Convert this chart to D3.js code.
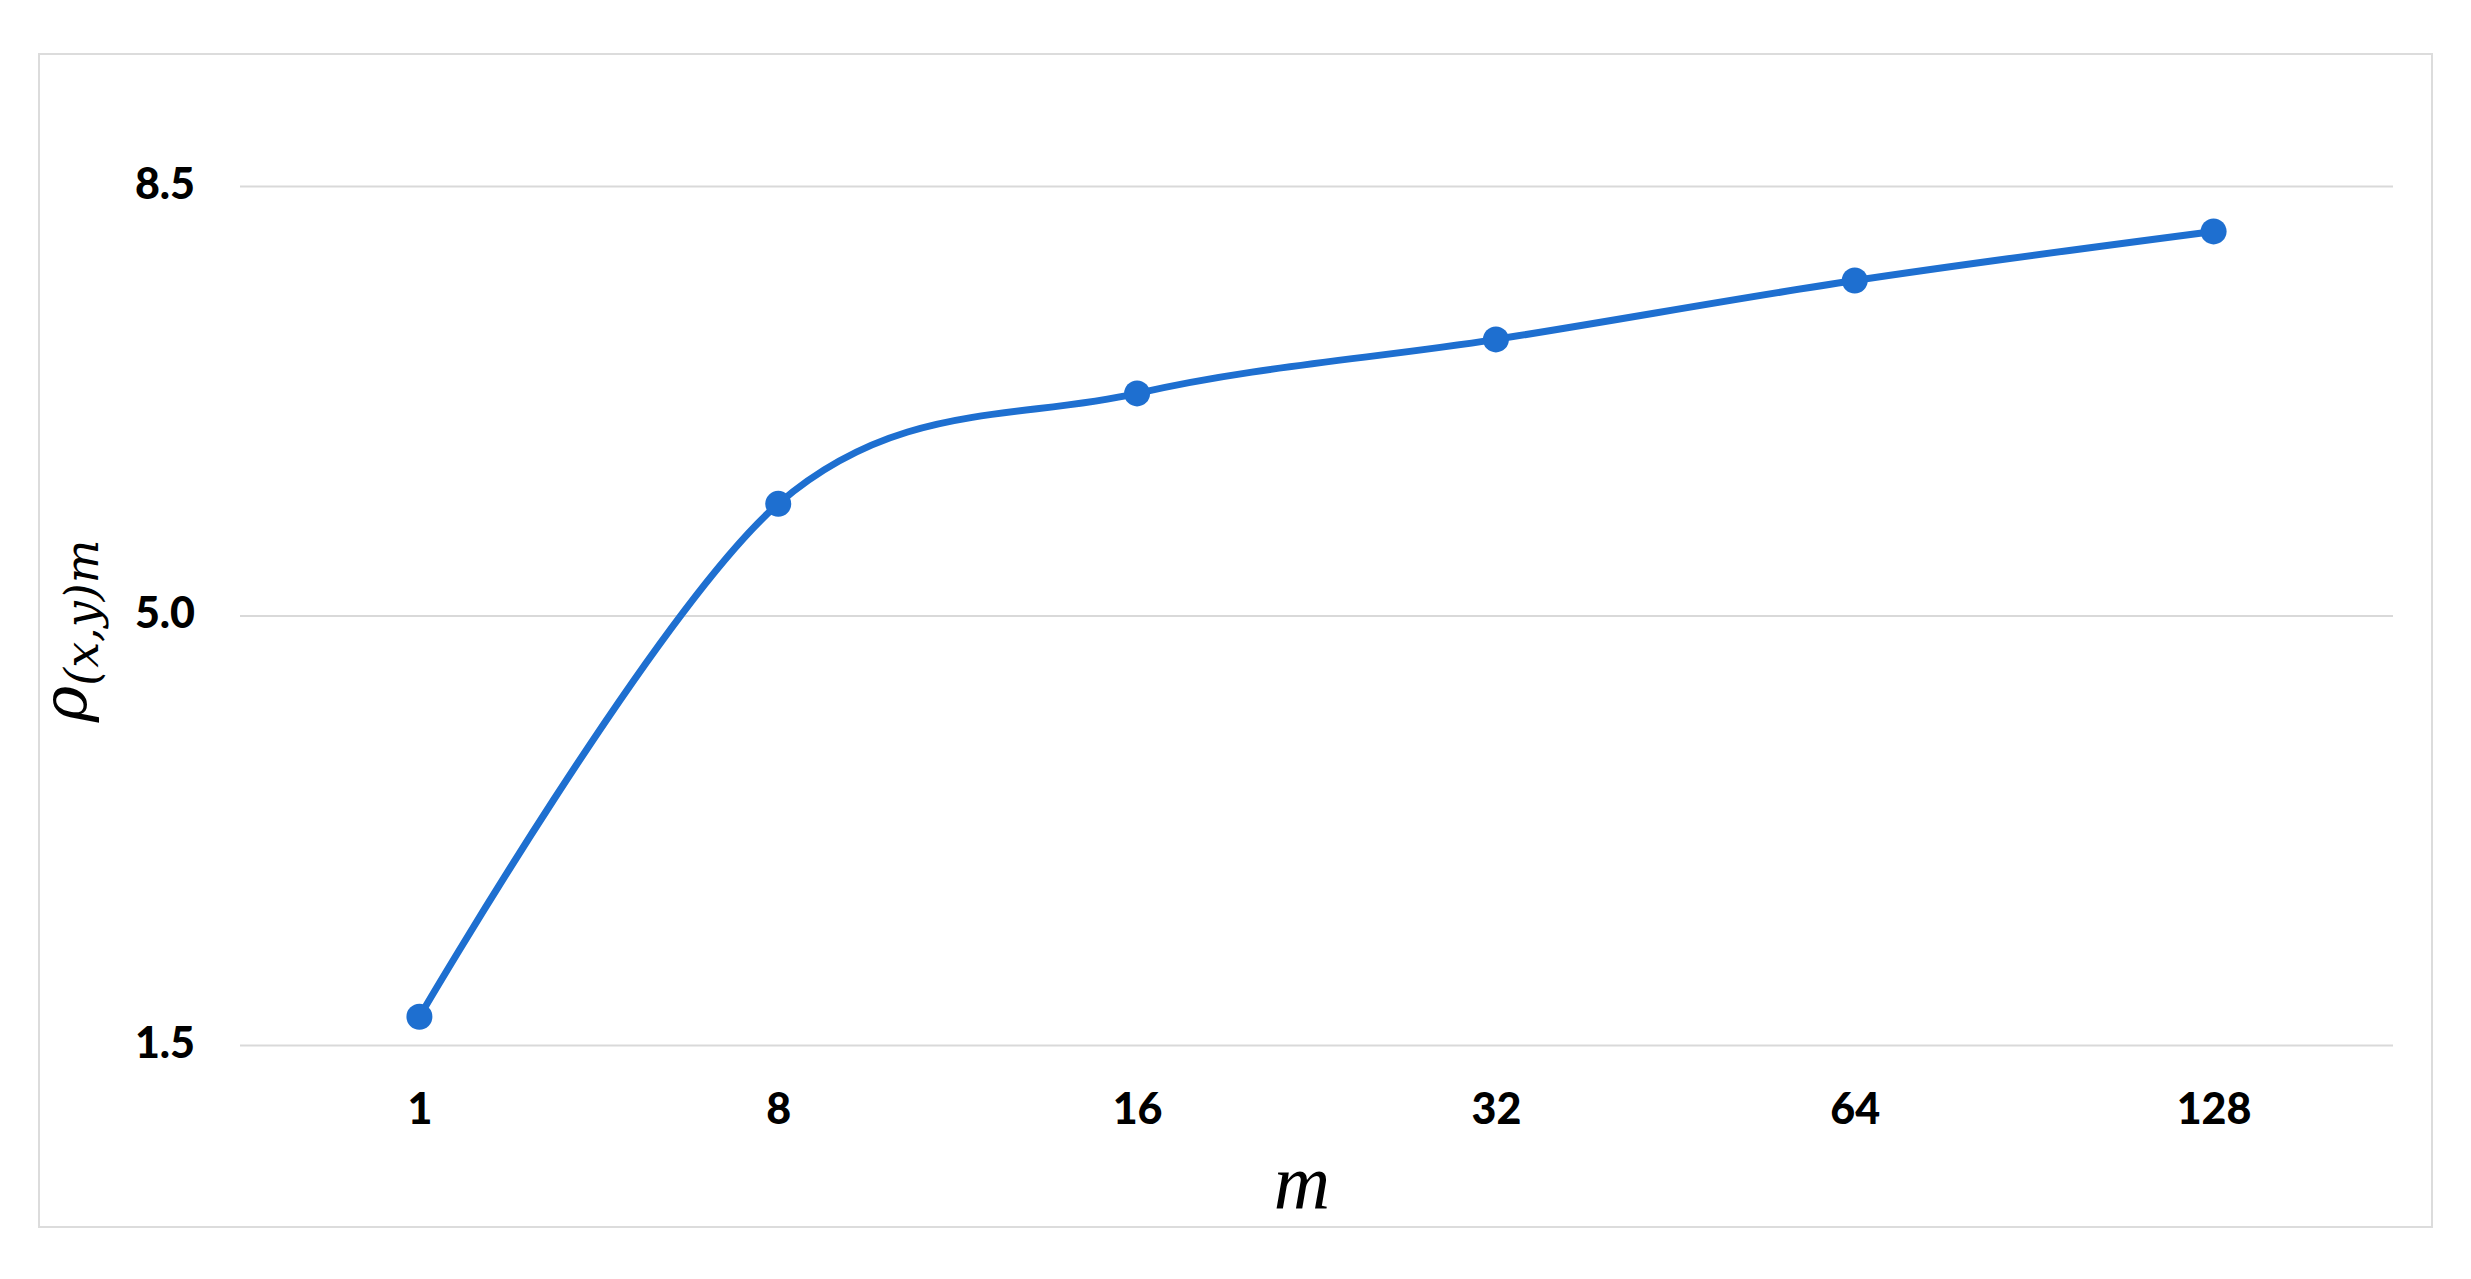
<!DOCTYPE html>
<html>
<head>
<meta charset="utf-8">
<script src="https://cdn.jsdelivr.net/npm/d3@7"></script>
<style>
  html, body { margin: 0; padding: 0; background: #fff; }
  svg { display: block; }
</style>
</head>
<body>
<div id="chart"></div>
<script>
const categories = ["1", "8", "16", "32", "64", "128"];
const values = [1.73, 5.91, 6.81, 7.25, 7.73, 8.13];
const yTicks = [1.5, 5.0, 8.5];

function draw() {
  const w = 2471, h = 1279;
  const plot = { left: 240, right: 2393, top: 186, bottom: 1045 };

  const svg = d3.select("#chart")
    .append("svg")
    .attr("width", w)
    .attr("height", h);

  // outer frame
  svg.append("rect")
    .attr("x", 39).attr("y", 54)
    .attr("width", 2432 - 39).attr("height", 1227 - 54)
    .attr("fill", "none")
    .attr("stroke", "#dcdcdc")
    .attr("stroke-width", 2);

  const x = d3.scalePoint()
    .domain(categories)
    .range([plot.left, plot.right])
    .padding(0.5);

  const y = d3.scaleLinear()
    .domain([1.5, 8.5])
    .range([plot.bottom, plot.top]);

  const tickFont = sel => sel
    .attr("fill", "#000")
    .style("font-family", "Lato, 'Open Sans', sans-serif")
    .style("font-weight", "900")
    .style("font-size", "43px");

  // y axis + gridlines
  const yAxis = svg.append("g")
    .attr("transform", `translate(${plot.left},0)`)
    .call(d3.axisLeft(y)
      .tickValues(yTicks)
      .tickFormat(d3.format(".1f"))
      .tickSize(-(plot.right - plot.left))
      .tickPadding(45));
  yAxis.select(".domain").remove();
  yAxis.selectAll(".tick line")
    .attr("stroke", "#d9d9d9")
    .attr("stroke-width", 2);
  yAxis.selectAll(".tick text")
    .attr("dy", "0.28em")
    .call(tickFont);

  // x axis labels
  const xAxis = svg.append("g")
    .attr("transform", `translate(0,${plot.bottom})`)
    .call(d3.axisBottom(x).tickSize(0).tickPadding(48));
  xAxis.select(".domain").remove();
  xAxis.selectAll(".tick text").call(tickFont);

  // axis titles
  svg.append("text")
    .attr("x", 1302)
    .attr("y", 1209)
    .attr("text-anchor", "middle")
    .attr("fill", "#000")
    .style("font-family", "'Liberation Serif', serif")
    .style("font-style", "italic")
    .style("font-size", "78px")
    .text("m");

  const yt = svg.append("text")
    .attr("transform", "translate(86,631) rotate(-90)")
    .attr("text-anchor", "middle")
    .attr("fill", "#000")
    .style("font-family", "'DejaVu Serif', serif")
    .style("font-style", "italic");
  yt.append("tspan")
    .style("font-size", "62px")
    .text("ρ");
  yt.append("tspan")
    .attr("dy", 12)
    .style("font-size", "46px")
    .text("(x,y)m");

  // line
  const data = categories.map((c, i) => ({ c, v: values[i] }));
  const line = d3.line()
    .x(d => x(d.c))
    .y(d => y(d.v))
    .curve(d3.curveCardinal.tension(0));

  svg.append("path")
    .datum(data)
    .attr("d", line)
    .attr("fill", "none")
    .attr("stroke", "#1e6fd0")
    .attr("stroke-width", 7)
    .attr("stroke-linejoin", "round");

  svg.selectAll("circle.pt")
    .data(data)
    .join("circle")
    .attr("class", "pt")
    .attr("cx", d => x(d.c))
    .attr("cy", d => y(d.v))
    .attr("r", 13)
    .attr("fill", "#1e6fd0");
}

draw();
</script>
</body>
</html>
